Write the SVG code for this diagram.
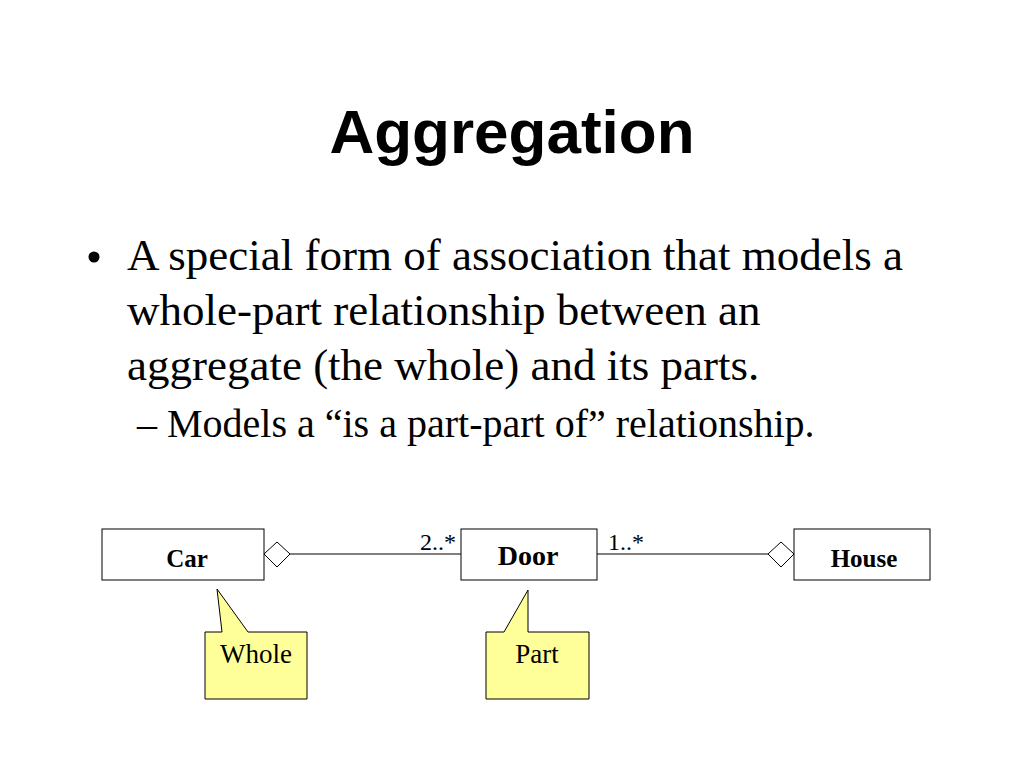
<svg xmlns="http://www.w3.org/2000/svg" width="1024" height="768" viewBox="0 0 1024 768">
<style>
.title{font-family:"Liberation Sans",Arial,sans-serif;font-weight:bold;font-size:62px;fill:#000}
.body{font-family:"Liberation Serif","Times New Roman",serif;fill:#000}
.cls{fill:#fff;stroke:#000;stroke-width:1}
.cname{font-family:"Liberation Serif","Times New Roman",serif;font-weight:bold;fill:#000;text-anchor:middle}
.mult{font-family:"Liberation Serif","Times New Roman",serif;font-size:24px;fill:#000}
.note{fill:#FFFF99;stroke:#000;stroke-width:1}
.ntext{font-family:"Liberation Serif","Times New Roman",serif;font-size:27px;fill:#000;text-anchor:middle}
.line{stroke:#000;stroke-width:1;fill:none}
.dia{fill:#fff;stroke:#000;stroke-width:1}
</style>
<rect width="1024" height="768" fill="#fff"/>
<text class="title" x="512" y="153" text-anchor="middle">Aggregation</text>
<g class="body">
<circle cx="94" cy="257" r="5.5" fill="#000"/>
<text x="127" y="270" font-size="45">A special form of association that models a</text>
<text x="127" y="325" font-size="45">whole-part relationship between an</text>
<text x="127" y="380" font-size="45">aggregate (the whole) and its parts.</text>
<text x="137" y="437" font-size="40">– Models a “is a part-part of” relationship.</text>
</g>
<g id="connectors">
<line class="line" x1="290" y1="554" x2="461" y2="554"/>
<polygon class="dia" points="264,554 277,542 290,554 277,567"/>
<line class="line" x1="597" y1="554" x2="768" y2="554"/>
<polygon class="dia" points="768,554 781,542 794,554 781,567"/>
<text class="mult" x="420" y="550">2..*</text>
<text class="mult" x="608" y="550">1..*</text>
</g>
<g id="car">
<rect class="cls" x="102" y="529" width="162" height="51"/>
<text class="cname" x="187" y="567" font-size="25">Car</text>
</g>
<g id="door">
<rect class="cls" x="461" y="529" width="136" height="51"/>
<text class="cname" x="528" y="565" font-size="28">Door</text>
</g>
<g id="house">
<rect class="cls" x="794" y="529" width="136" height="51"/>
<text class="cname" x="864" y="567" font-size="25">House</text>
</g>
<g id="note-whole">
<path class="note" d="M205,632 H222 L217,589 L248,632 H307 V699 H205 Z"/>
<text class="ntext" x="256" y="663">Whole</text>
</g>
<g id="note-part">
<path class="note" d="M486,632 H504 L528,590 L528,632 H589 V699 H486 Z"/>
<text class="ntext" x="537" y="663">Part</text>
</g>
</svg>
